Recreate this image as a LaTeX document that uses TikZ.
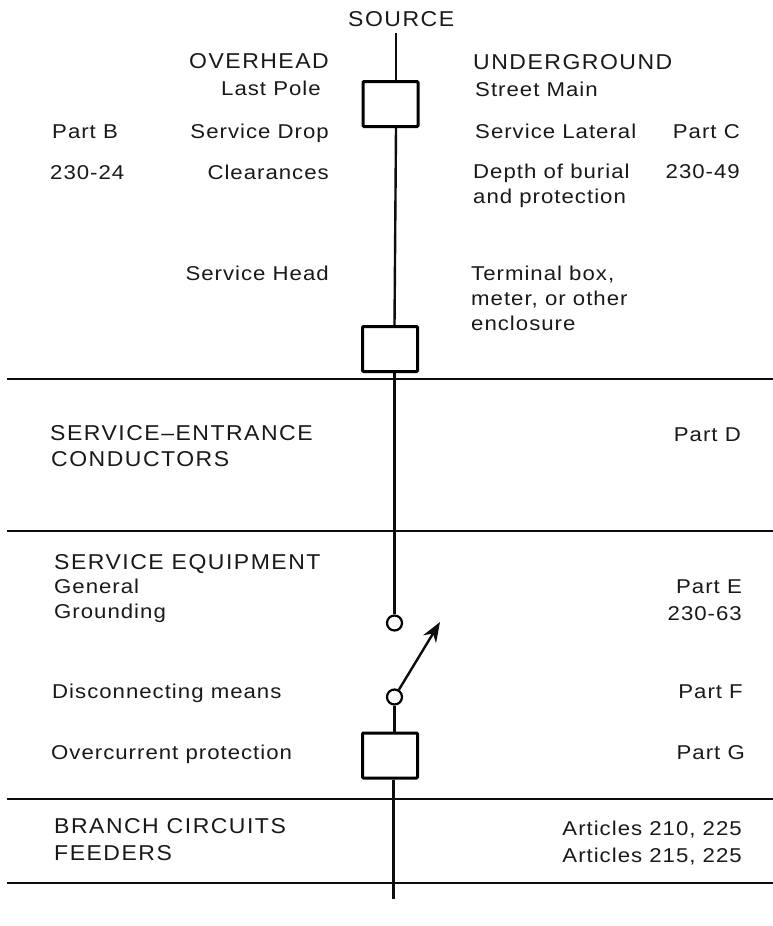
\documentclass[tikz,border=0pt]{standalone}
\usepackage{fontspec}
\setmainfont{Liberation Sans}
\newfontfamily\lowf{Liberation Sans}[FakeStretch=1.11,LetterSpace=5]
\newfontfamily\upf{Liberation Sans}[FakeStretch=1.07,LetterSpace=7]
\usetikzlibrary{arrows.meta}
\begin{document}
\begin{tikzpicture}[x=1pt,y=-1pt,
 lab/.style={inner sep=0pt,anchor=base west,font=\lowf\fontsize{20}{22}\selectfont,text=black!90},
 labr/.style={lab,anchor=base east},
 upper/.style={lab,font=\upf\fontsize{21.5}{24}\selectfont},
 upperr/.style={upper,anchor=base east},
 lline/.style={line width=2.4pt,black!95},
 rulel/.style={line width=2.4pt,black!95},
 boxn/.style={draw=black,line width=3pt,minimum width=55pt,minimum height=45pt,inner sep=0pt,fill=white,rounded corners=1pt},
 term/.style={draw=black,circle,line width=2.2pt,minimum size=15pt,inner sep=0pt,fill=white}]
\useasboundingbox (0,0) rectangle (773,926);
\coordinate (top) at (396,33);
\coordinate (mid) at (394.5,380);
\coordinate (bot) at (393.4,899);
\foreach \n/\a/\b/\y in {r1/7/773/379,r2/7/773/531,r3/7/773/799,r4/7/773/883}{
 \coordinate (\n a) at (\a,\y); \coordinate (\n b) at (\b,\y);
 \draw[rulel] (\n a) -- (\n b);}
\node[boxn] (b1) at (390.5,104) {};
\node[boxn] (b2) at (390,349) {};
\node[term] (t1) at (394.5,623) {};
\node[term] (t2) at (394.5,697) {};
\node[boxn] (b3) at (390,755.5) {};
\coordinate (tip) at (440,622);
\draw[lline] (top) -- (b1.north -| top);
\draw[lline] (b1.south -| top) -- (b2.north -| mid);
\draw[lline] (b2.south -| mid) -- (t1.north);
\draw[lline] (t2.south) -- (b3.north -| t2);
\draw[lline] (b3.south -| bot) -- (bot);
\draw[lline,-{Stealth[length=20pt,width=15pt]}] (t2) -- (tip);
\node[upper] (n1) at (348,26) {SOURCE};
\node[upperr] (n2) at (329,68) {OVERHEAD};
\node[lab] (n3) at (221,95) {Last Pole};
\node[upper] (n4) at (473,69) {UNDERGROUND};
\node[lab] (n5) at (475,96) {Street Main};
\node[lab] (n6) at (52,138) {Part B};
\node[labr] (n7) at (329,138) {Service Drop};
\node[lab] (n8) at (475,138) {Service Lateral};
\node[labr] (n9) at (740,138) {Part C};
\node[lab] (n10) at (50,179) {230-24};
\node[labr] (n11) at (329,179) {Clearances};
\node[lab] (n12) at (473,178) {Depth of burial};
\node[lab] (n13) at (473,203) {and protection};
\node[labr] (n14) at (740,178) {230-49};
\node[labr] (n15) at (329,280) {Service Head};
\node[lab] (n16) at (471,280) {Terminal box,};
\node[lab] (n17) at (471,305) {meter, or other};
\node[lab] (n18) at (471,330) {enclosure};
\node[upper] (n19) at (50,440) {SERVICE–ENTRANCE};
\node[upper] (n20) at (51,466) {CONDUCTORS};
\node[labr] (n21) at (741,441) {Part D};
\node[upper] (n22) at (54,569) {SERVICE EQUIPMENT};
\node[lab] (n23) at (54,593) {General};
\node[lab] (n24) at (54,618) {Grounding};
\node[labr] (n25) at (742,593) {Part E};
\node[labr] (n26) at (742,620) {230-63};
\node[lab] (n27) at (52,698) {Disconnecting means};
\node[labr] (n28) at (743,698) {Part F};
\node[lab] (n29) at (51,759) {Overcurrent protection};
\node[labr] (n30) at (745,759) {Part G};
\node[upper] (n31) at (54,833) {BRANCH CIRCUITS};
\node[upper] (n32) at (54,860) {FEEDERS};
\node[labr] (n33) at (742,835) {Articles 210, 225};
\node[labr] (n34) at (742,862) {Articles 215, 225};
\end{tikzpicture}
\end{document}
